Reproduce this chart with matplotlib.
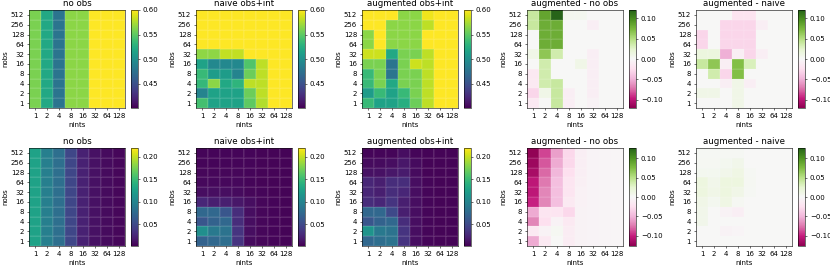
import numpy as np
import matplotlib
matplotlib.use("Agg")
import matplotlib.pyplot as plt

nints = [1, 2, 4, 8, 16, 32, 64, 128]
nobs = [512, 256, 128, 64, 32, 16, 8, 4, 2, 1]   # rows, top to bottom

# top row: accuracy
acc_noobs = [[0.56, 0.52, 0.477, 0.565, 0.565, 0.61, 0.61, 0.61]] * 10

acc_naive = [
	[0.61, 0.61, 0.61, 0.61, 0.61, 0.61, 0.61, 0.61],
	[0.61, 0.61, 0.61, 0.61, 0.61, 0.61, 0.61, 0.61],
	[0.61, 0.61, 0.61, 0.61, 0.61, 0.61, 0.61, 0.61],
	[0.61, 0.61, 0.61, 0.61, 0.61, 0.61, 0.61, 0.61],
	[0.566, 0.566, 0.582, 0.582, 0.61, 0.61, 0.61, 0.61],
	[0.515, 0.493, 0.493, 0.493, 0.545, 0.58, 0.61, 0.61],
	[0.535, 0.51, 0.51, 0.49, 0.555, 0.58, 0.61, 0.61],
	[0.533, 0.565, 0.52, 0.53, 0.58, 0.58, 0.61, 0.61],
	[0.49, 0.515, 0.515, 0.515, 0.555, 0.58, 0.61, 0.61],
	[0.54, 0.515, 0.515, 0.515, 0.55, 0.577, 0.61, 0.61],
]

acc_aug = [
	[0.61, 0.61, 0.61, 0.565, 0.565, 0.595, 0.61, 0.61],
	[0.61, 0.61, 0.565, 0.565, 0.565, 0.58, 0.61, 0.61],
	[0.565, 0.61, 0.565, 0.565, 0.565, 0.61, 0.61, 0.61],
	[0.565, 0.61, 0.565, 0.565, 0.565, 0.61, 0.61, 0.61],
	[0.585, 0.585, 0.52, 0.56, 0.56, 0.58, 0.61, 0.61],
	[0.56, 0.56, 0.478, 0.56, 0.585, 0.58, 0.61, 0.61],
	[0.535, 0.56, 0.478, 0.56, 0.56, 0.58, 0.61, 0.61],
	[0.535, 0.56, 0.52, 0.56, 0.56, 0.58, 0.61, 0.61],
	[0.51, 0.535, 0.515, 0.535, 0.56, 0.58, 0.61, 0.61],
	[0.535, 0.515, 0.515, 0.525, 0.555, 0.58, 0.61, 0.61],
]

acc_aug_noobs = [
	[0.04, 0.085, 0.12, 0.005, 0.005, 0.0, 0.0, 0.0],
	[0.04, 0.08, 0.08, 0.0, 0.0, -0.01, 0.0, 0.0],
	[0.0, 0.08, 0.08, 0.0, 0.0, 0.0, 0.0, 0.0],
	[0.0, 0.08, 0.08, 0.0, 0.0, 0.0, 0.0, 0.0],
	[0.01, 0.065, 0.035, 0.0, 0.0, -0.01, 0.0, 0.0],
	[0.0, 0.035, 0.0, 0.0, 0.01, -0.01, 0.0, 0.0],
	[-0.015, 0.035, 0.0, 0.0, 0.0, -0.01, 0.0, 0.0],
	[-0.015, 0.035, 0.04, 0.0, 0.0, -0.01, 0.0, 0.0],
	[-0.03, 0.01, 0.04, -0.01, 0.0, -0.01, 0.0, 0.0],
	[-0.015, 0.0, 0.04, -0.01, 0.0, -0.005, 0.0, 0.0],
]

acc_aug_naive = [
	[0.0, 0.0, 0.0, -0.02, -0.02, 0.0, 0.0, 0.0],
	[0.0, 0.0, -0.03, -0.03, -0.03, -0.01, 0.0, 0.0],
	[-0.03, 0.0, -0.03, -0.03, -0.03, 0.0, 0.0, 0.0],
	[-0.03, 0.0, -0.03, -0.03, -0.03, 0.0, 0.0, 0.0],
	[0.015, 0.015, -0.05, -0.01, -0.03, -0.01, 0.0, 0.0],
	[0.04, 0.065, -0.01, 0.07, 0.03, 0.0, 0.0, 0.0],
	[0.0, 0.035, -0.03, 0.07, 0.0, 0.0, 0.0, 0.0],
	[0.0, 0.0, -0.01, 0.01, -0.01, 0.0, 0.0, 0.0],
	[0.01, 0.01, 0.0, 0.01, 0.0, 0.0, 0.0, 0.0],
	[0.0, 0.0, 0.0, 0.01, 0.0, 0.0, 0.0, 0.0],
]

# bottom row: error
err_noobs = [[0.128, 0.095, 0.081, 0.048, 0.022, 0.012, 0.008, 0.006]] * 10

err_naive = [
	[0.005, 0.005, 0.005, 0.005, 0.005, 0.004, 0.004, 0.004],
	[0.005, 0.005, 0.005, 0.005, 0.005, 0.004, 0.004, 0.004],
	[0.006, 0.006, 0.006, 0.006, 0.005, 0.004, 0.004, 0.004],
	[0.007, 0.007, 0.007, 0.007, 0.005, 0.004, 0.004, 0.004],
	[0.01, 0.01, 0.01, 0.008, 0.006, 0.005, 0.004, 0.004],
	[0.025, 0.02, 0.02, 0.015, 0.01, 0.006, 0.005, 0.004],
	[0.075, 0.075, 0.06, 0.03, 0.01, 0.006, 0.005, 0.004],
	[0.06, 0.07, 0.075, 0.03, 0.01, 0.006, 0.005, 0.004],
	[0.11, 0.09, 0.085, 0.035, 0.01, 0.006, 0.005, 0.004],
	[0.07, 0.075, 0.08, 0.035, 0.008, 0.006, 0.005, 0.004],
]

err_aug = [
	[0.005, 0.005, 0.005, 0.01, 0.005, 0.004, 0.004, 0.004],
	[0.008, 0.008, 0.01, 0.015, 0.008, 0.004, 0.004, 0.004],
	[0.012, 0.012, 0.015, 0.018, 0.008, 0.004, 0.004, 0.004],
	[0.025, 0.02, 0.03, 0.03, 0.01, 0.005, 0.004, 0.004],
	[0.025, 0.02, 0.03, 0.025, 0.01, 0.005, 0.004, 0.004],
	[0.03, 0.025, 0.035, 0.02, 0.01, 0.005, 0.004, 0.004],
	[0.075, 0.075, 0.05, 0.02, 0.01, 0.005, 0.004, 0.004],
	[0.06, 0.07, 0.075, 0.03, 0.01, 0.005, 0.004, 0.004],
	[0.115, 0.09, 0.085, 0.035, 0.01, 0.005, 0.004, 0.004],
	[0.075, 0.08, 0.085, 0.035, 0.01, 0.005, 0.004, 0.004],
]

err_aug_noobs = [
	[-0.125, -0.09, -0.06, -0.03, -0.01, -0.004, -0.003, -0.002],
	[-0.12, -0.085, -0.055, -0.03, -0.01, -0.004, -0.003, -0.002],
	[-0.115, -0.08, -0.05, -0.025, -0.01, -0.004, -0.003, -0.002],
	[-0.105, -0.075, -0.045, -0.02, -0.008, -0.004, -0.003, -0.002],
	[-0.105, -0.07, -0.045, -0.02, -0.006, -0.004, -0.003, -0.002],
	[-0.1, -0.07, -0.045, -0.015, -0.006, -0.004, -0.003, -0.002],
	[-0.055, -0.02, -0.02, -0.03, -0.005, -0.004, -0.003, -0.002],
	[-0.07, -0.025, -0.005, -0.015, -0.005, -0.004, -0.003, -0.002],
	[-0.015, -0.005, 0.003, -0.012, -0.005, -0.004, -0.003, -0.002],
	[-0.055, -0.015, 0.0, -0.012, -0.005, -0.004, -0.003, -0.002],
]

err_aug_naive = [
	[0.002, 0.002, 0.002, 0.002, 0.0, 0.0, 0.0, 0.0],
	[0.003, 0.003, 0.005, 0.008, 0.0, 0.0, 0.0, 0.0],
	[0.005, 0.005, 0.008, 0.012, 0.002, 0.0, 0.0, 0.0],
	[0.015, 0.008, 0.015, 0.015, 0.003, 0.0, 0.0, 0.0],
	[0.015, 0.01, 0.015, 0.01, 0.002, 0.0, 0.0, 0.0],
	[0.01, 0.005, 0.012, 0.003, 0.0, 0.0, 0.0, 0.0],
	[0.008, 0.0, -0.005, -0.01, 0.0, 0.0, 0.0, 0.0],
	[0.008, 0.0, 0.0, 0.0, 0.0, 0.0, 0.0, 0.0],
	[0.0, 0.0, -0.005, -0.003, 0.0, 0.0, 0.0, 0.0],
	[0.0, 0.0, 0.0, 0.0, 0.0, 0.0, 0.0, 0.0],
]

titles = ["no obs", "naive obs+int", "augmented obs+int",
	"augmented - no obs", "augmented - naive"]
rows = [
	( [acc_noobs, acc_naive, acc_aug, acc_aug_noobs, acc_aug_naive],
	  (0.40, 0.60), [0.45, 0.50, 0.55, 0.60], 0.12),
	( [err_noobs, err_naive, err_aug, err_aug_noobs, err_aug_naive],
	  (0.002, 0.22), [0.05, 0.10, 0.15, 0.20], 0.127),
]
diff_ticks = [-0.10, -0.05, 0.00, 0.05, 0.10]

plt.rcParams['font.size'] = 10
plt.rcParams['axes.titlesize'] = 12.5

W, H = 830, 267
fig = plt.figure( figsize=(16.6, 5.34))
lefts = [29, 196, 362, 527, 696]
tops = [10, 148]
aw, ah = 96, 98

for r, (mats, (vmin, vmax), ticks, dlim) in enumerate( rows):
	for c in range( 5):
		x0 = lefts[c]
		ax = fig.add_axes( [x0/W, 1 - (tops[r] + ah)/H, aw/W, ah/H])
		cax = fig.add_axes( [(x0 + aw + 6)/W, 1 - (tops[r] + ah)/H, 7/W, ah/H])
		data = np.flipud( np.array( mats[c]))
		if c < 3:
			kw = dict( cmap="viridis", vmin=vmin, vmax=vmax)
			cticks = ticks
		else:
			kw = dict( cmap="PiYG", vmin=-dlim, vmax=dlim)
			cticks = diff_ticks
		m = ax.pcolormesh( data, edgecolors=(1, 1, 1, 0.07), linewidth=0.6, **kw)
		cb = fig.colorbar( m, cax=cax, ticks=cticks)
		cb.ax.set_yticklabels( ["{:.2f}".format( t).replace("-", "\u2212") for t in cticks])
		ax.set_xticks( np.arange( len( nints)) + 0.5)
		ax.set_xticklabels( [str( n) for n in nints])
		ax.set_yticks( np.arange( len( nobs)) + 0.5)
		ax.set_yticklabels( [str( n) for n in nobs[::-1]])
		ax.set_xlabel( "nints")
		ax.set_ylabel( "nobs")
		ax.set_title( titles[c])

fig.savefig( "out.png", dpi=50)
